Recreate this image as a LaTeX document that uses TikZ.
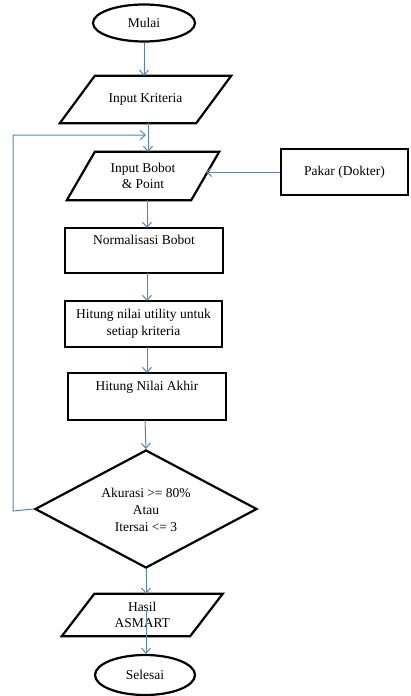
\documentclass[tikz,border=0pt]{standalone}
\usepackage{fontspec}
\setmainfont{Liberation Serif}
\usetikzlibrary{shapes.geometric,arrows.meta}
\definecolor{flow}{RGB}{84,130,190}
\tikzset{
  box/.style={draw=black,line width=2.2pt,inner sep=0pt,align=center,font=\fontsize{13.5}{17}\selectfont},
  txt/.style={draw=none,inner sep=0pt,align=center,font=\fontsize{13.5}{17}\selectfont},
  term/.style={box,ellipse},
  shp/.style={draw=black,line width=2.2pt,line join=miter},
  conn/.style={draw=flow,line width=1pt,-{Straight Barb[length=5pt,width=9pt,line width=1pt]}},
}
\begin{document}
\begin{tikzpicture}[x=1pt,y=-1pt]
\useasboundingbox (0,0) rectangle (410,696);
% terminals
\node[term,minimum width=102pt,minimum height=37pt] (mulai) at (144,23) {Mulai};
\node[term,minimum width=100pt,minimum height=40pt] (selesai) at (145,675) {Selesai};
% parallelograms (text nodes + outline)
\node[txt,minimum width=136pt,minimum height=47pt] (inkrit) at (145.5,99.5) {Input Kriteria};
\draw[shp] ([xshift=17.5pt]inkrit.north west) -- ([xshift=17.5pt]inkrit.north east)
  -- ([xshift=-17.5pt]inkrit.south east) -- ([xshift=-17.5pt]inkrit.south west) -- cycle;
\node[txt,minimum width=124pt,minimum height=48pt] (inbobot) at (143,176) {Input Bobot\\[-1pt]\& Point};
\draw[shp] ([xshift=14pt]inbobot.north west) -- ([xshift=14pt]inbobot.north east)
  -- ([xshift=-14pt]inbobot.south east) -- ([xshift=-14pt]inbobot.south west) -- cycle;
\node[txt,minimum width=128pt,minimum height=42pt] (hasil) at (142.25,615) {Hasil\\[-1pt]ASMART};
\draw[shp] ([xshift=16.25pt]hasil.north west) -- ([xshift=16.25pt]hasil.north east)
  -- ([xshift=-16.25pt]hasil.south east) -- ([xshift=-16.25pt]hasil.south west) -- cycle;
% process boxes
\node[box,minimum width=127pt,minimum height=46pt] (pakar) at (344.5,172) {Pakar (Dokter)};
\node[box,minimum width=158pt,minimum height=45pt] (norm) at (144,250.5) {Normalisasi Bobot\\[5pt]};
\node[box,minimum width=157pt,minimum height=46pt] (util) at (143.5,324) {Hitung nilai utility untuk\\setiap kriteria};
\node[box,minimum width=158pt,minimum height=47pt] (akhir) at (147,396.5) {Hitung Nilai Akhir\\[5pt]};
% decision
\node[box,diamond,minimum width=222pt,minimum height=118pt] (dec) at (146,509) {};
\node[txt] (dectxt) at (146,510) {Akurasi >= 80\%\\Atau\\Itersai <= 3};
% loop corner points
\coordinate (lb) at (13,511);
\coordinate (lt) at (13,135);
\coordinate (lend) at (146,135);
% connectors
\draw[conn] (mulai.south) -- (mulai.south |- inkrit.north);
\draw[conn] (148,123) -- (148,152);
\draw[conn] (pakar.west) -- (206,172);
\draw[conn] (147,200) -- (147,228);
\draw[conn] (147,273) -- (147,301);
\draw[conn] (147,347) -- (147,373);
\draw[conn] (145,420) -- (dec.north);
\draw[conn] (dec.south) -- (dec.south |- hasil.north);
\draw[conn] ([yshift=26pt]hasil.south -| dec.south) -- (dec.south |- selesai.north);
\draw[conn] (dec.west) -- (lb) -- (lt) -- (lend);
\end{tikzpicture}
\end{document}
